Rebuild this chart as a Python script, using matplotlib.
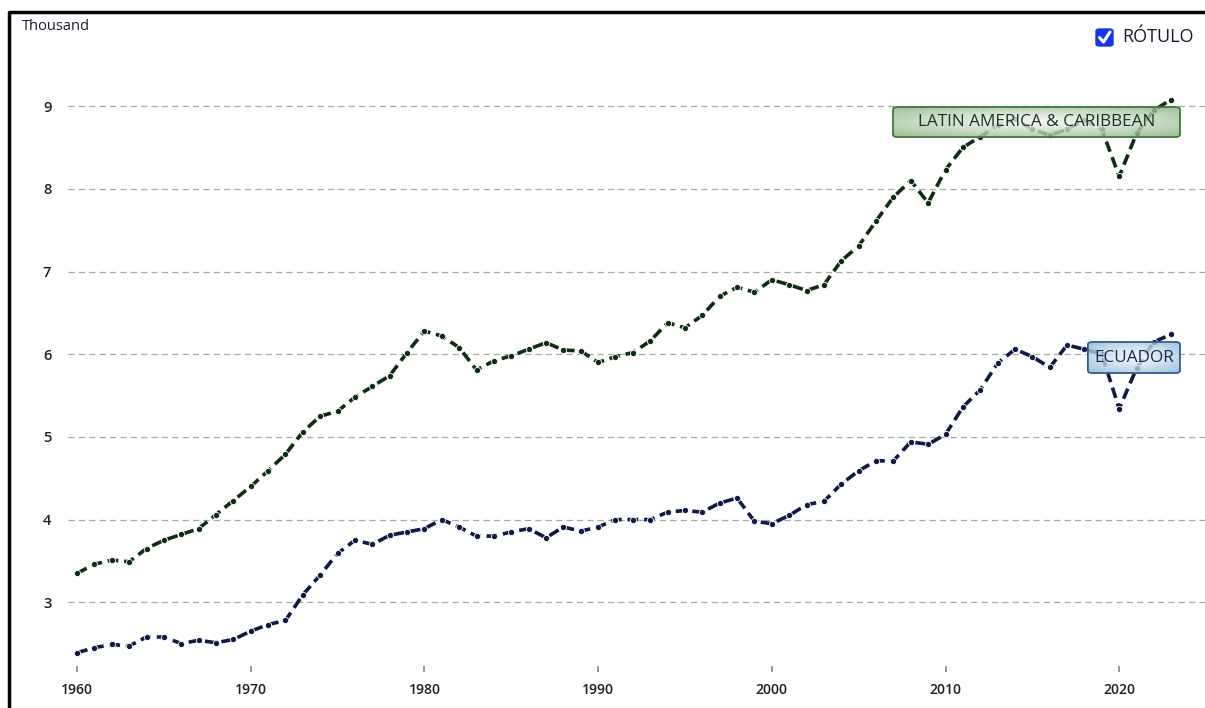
"""Line chart: Latin America & Caribbean vs Ecuador, 1960-2023 (thousand)"""
import matplotlib
matplotlib.use("Agg")
import matplotlib.pyplot as plt
import numpy as np
from matplotlib.patches import FancyBboxPatch
from matplotlib.lines import Line2D

years = list(range(1960, 2024))
latam = [3.35, 3.46, 3.51, 3.49, 3.65, 3.75, 3.82, 3.89, 4.06, 4.23,
         4.40, 4.59, 4.79, 5.06, 5.25, 5.31, 5.48, 5.61, 5.74, 6.02,
         6.28, 6.22, 6.08, 5.81, 5.92, 5.98, 6.06, 6.14, 6.05, 6.04,
         5.90, 5.97, 6.02, 6.16, 6.38, 6.32, 6.47, 6.70, 6.81, 6.75,
         6.90, 6.84, 6.77, 6.84, 7.13, 7.31, 7.61, 7.90, 8.10, 7.83,
         8.23, 8.50, 8.63, 8.77, 8.84, 8.72, 8.65, 8.72, 8.83, 8.72,
         8.15, 8.67, 8.95, 9.08]
ecuador = [2.39, 2.45, 2.49, 2.47, 2.58, 2.58, 2.50, 2.54, 2.51, 2.55,
           2.65, 2.73, 2.78, 3.09, 3.33, 3.59, 3.75, 3.70, 3.81, 3.85,
           3.89, 4.00, 3.91, 3.80, 3.80, 3.85, 3.89, 3.78, 3.91, 3.86,
           3.91, 4.00, 4.00, 4.00, 4.09, 4.11, 4.09, 4.20, 4.26, 3.98,
           3.95, 4.05, 4.18, 4.22, 4.43, 4.59, 4.71, 4.71, 4.94, 4.91,
           5.03, 5.36, 5.57, 5.89, 6.06, 5.97, 5.84, 6.11, 6.06, 6.00,
           5.34, 5.83, 6.15, 6.24]
y_ticks = [3, 4, 5, 6, 7, 8, 9]
x_ticks = [1960, 1970, 1980, 1990, 2000, 2010, 2020]

GREEN = "#0d2e12"
NAVY = "#0f1a45"

plt.rcParams["font.family"] = ["Open Sans", "DejaVu Sans"]

W, H = 1205, 708
fig = plt.figure(figsize=(W / 100, H / 100), dpi=100)
ax = fig.add_axes([68 / W, 1 - 666 / H, 1137 / W, 626 / H])
ax.set_xlim(1959.48, 2024.94)
ax.set_ylim(2.229, 9.80)

for vals, col in [(latam, GREEN), (ecuador, NAVY)]:
    ax.plot(years, vals, color=col, lw=2.6, ls=(0, (3, 1.6)),
            marker="o", ms=4.5, mfc=col, mec="white", mew=0.6, zorder=3)

ax.set_yticks(y_ticks)
ax.set_xticks(x_ticks)
ax.grid(axis="y", color="#a8a8a8", lw=0.9, ls=(0, (5, 3.3)))
ax.tick_params(axis="y", length=0, pad=12, labelsize=10.5, labelcolor="#1e1e2a")
ax.tick_params(axis="x", length=4, width=1.2, color="#888888", pad=8,
               labelsize=10, labelcolor="#1e1e2a")
for lab in ax.get_xticklabels() + ax.get_yticklabels():
    lab.set_fontweight("semibold")
for s in ax.spines.values():
    s.set_visible(False)


def label_box(x0, y0, x1, y1, edge, tint, text, tcol):
    patch = FancyBboxPatch((x0, y0), x1 - x0, y1 - y0,
                           boxstyle="round,pad=0,rounding_size=0.004",
                           transform=ax.transAxes, fc="none", ec=edge,
                           lw=1.3, zorder=5)
    ax.add_patch(patch)
    u, v = np.meshgrid(np.linspace(-1, 1, 200), np.linspace(-1, 1, 40))
    d = np.clip(np.sqrt((u * 0.9) ** 2 + v ** 2) / 1.2, 0, 1) ** 1.3
    rgb = np.array(matplotlib.colors.to_rgb(tint))
    img = np.ones((40, 200, 4))
    img[..., :3] = 1 - (0.15 + 0.85 * d[..., None]) * (1 - rgb)
    img[..., 3] = 0.8
    im = ax.imshow(img, extent=[x0, x1, y0, y1], transform=ax.transAxes,
                   aspect="auto", zorder=4, interpolation="bilinear")
    im.set_clip_path(patch)
    ax.text((x0 + x1) / 2, (y0 + y1) / 2, text, transform=ax.transAxes,
            ha="center", va="center", fontsize=12.3, color=tcol, zorder=6)


label_box(0.7256, 0.845, 0.978, 0.893, "#3d7a38", "#8fb487",
          "LATIN AMERICA & CARIBBEAN", "#18352a")
label_box(0.897, 0.468, 0.978, 0.5176, "#2f5f8a", "#8fb8d8",
          "ECUADOR", "#172a55")

# header texts
fig.text(22 / W, 1 - 27 / H, "Thousand", fontsize=10.5, color="#1a1a2e",
         ha="left", va="center", fontweight="medium")
fig.text(1122 / W, 1 - 37 / H, "RÓTULO", fontsize=13, color="#1a1a2e",
         ha="left", va="center")
cb = FancyBboxPatch((1096 / W, 1 - 46 / H), 17 / W, 17 / H,
                    boxstyle="round,pad=0,rounding_size=0.003",
                    transform=fig.transFigure, fc="#1536e8", ec="#1536e8")
fig.patches.append(cb)
fig.lines.append(Line2D([1099.5 / W, 1103.5 / W, 1110 / W],
                        [1 - 37.5 / H, 1 - 42 / H, 1 - 32 / H],
                        transform=fig.transFigure, color="white", lw=2.2,
                        solid_capstyle="round", solid_joinstyle="round"))

# outer frame (left and top)
fig.lines.append(Line2D([9 / W, 9 / W, 1.0], [0.0, 1 - 12 / H, 1 - 12 / H],
                        transform=fig.transFigure, color="black", lw=2.5))

fig.savefig("out.png", dpi=100)
plt.close(fig)
